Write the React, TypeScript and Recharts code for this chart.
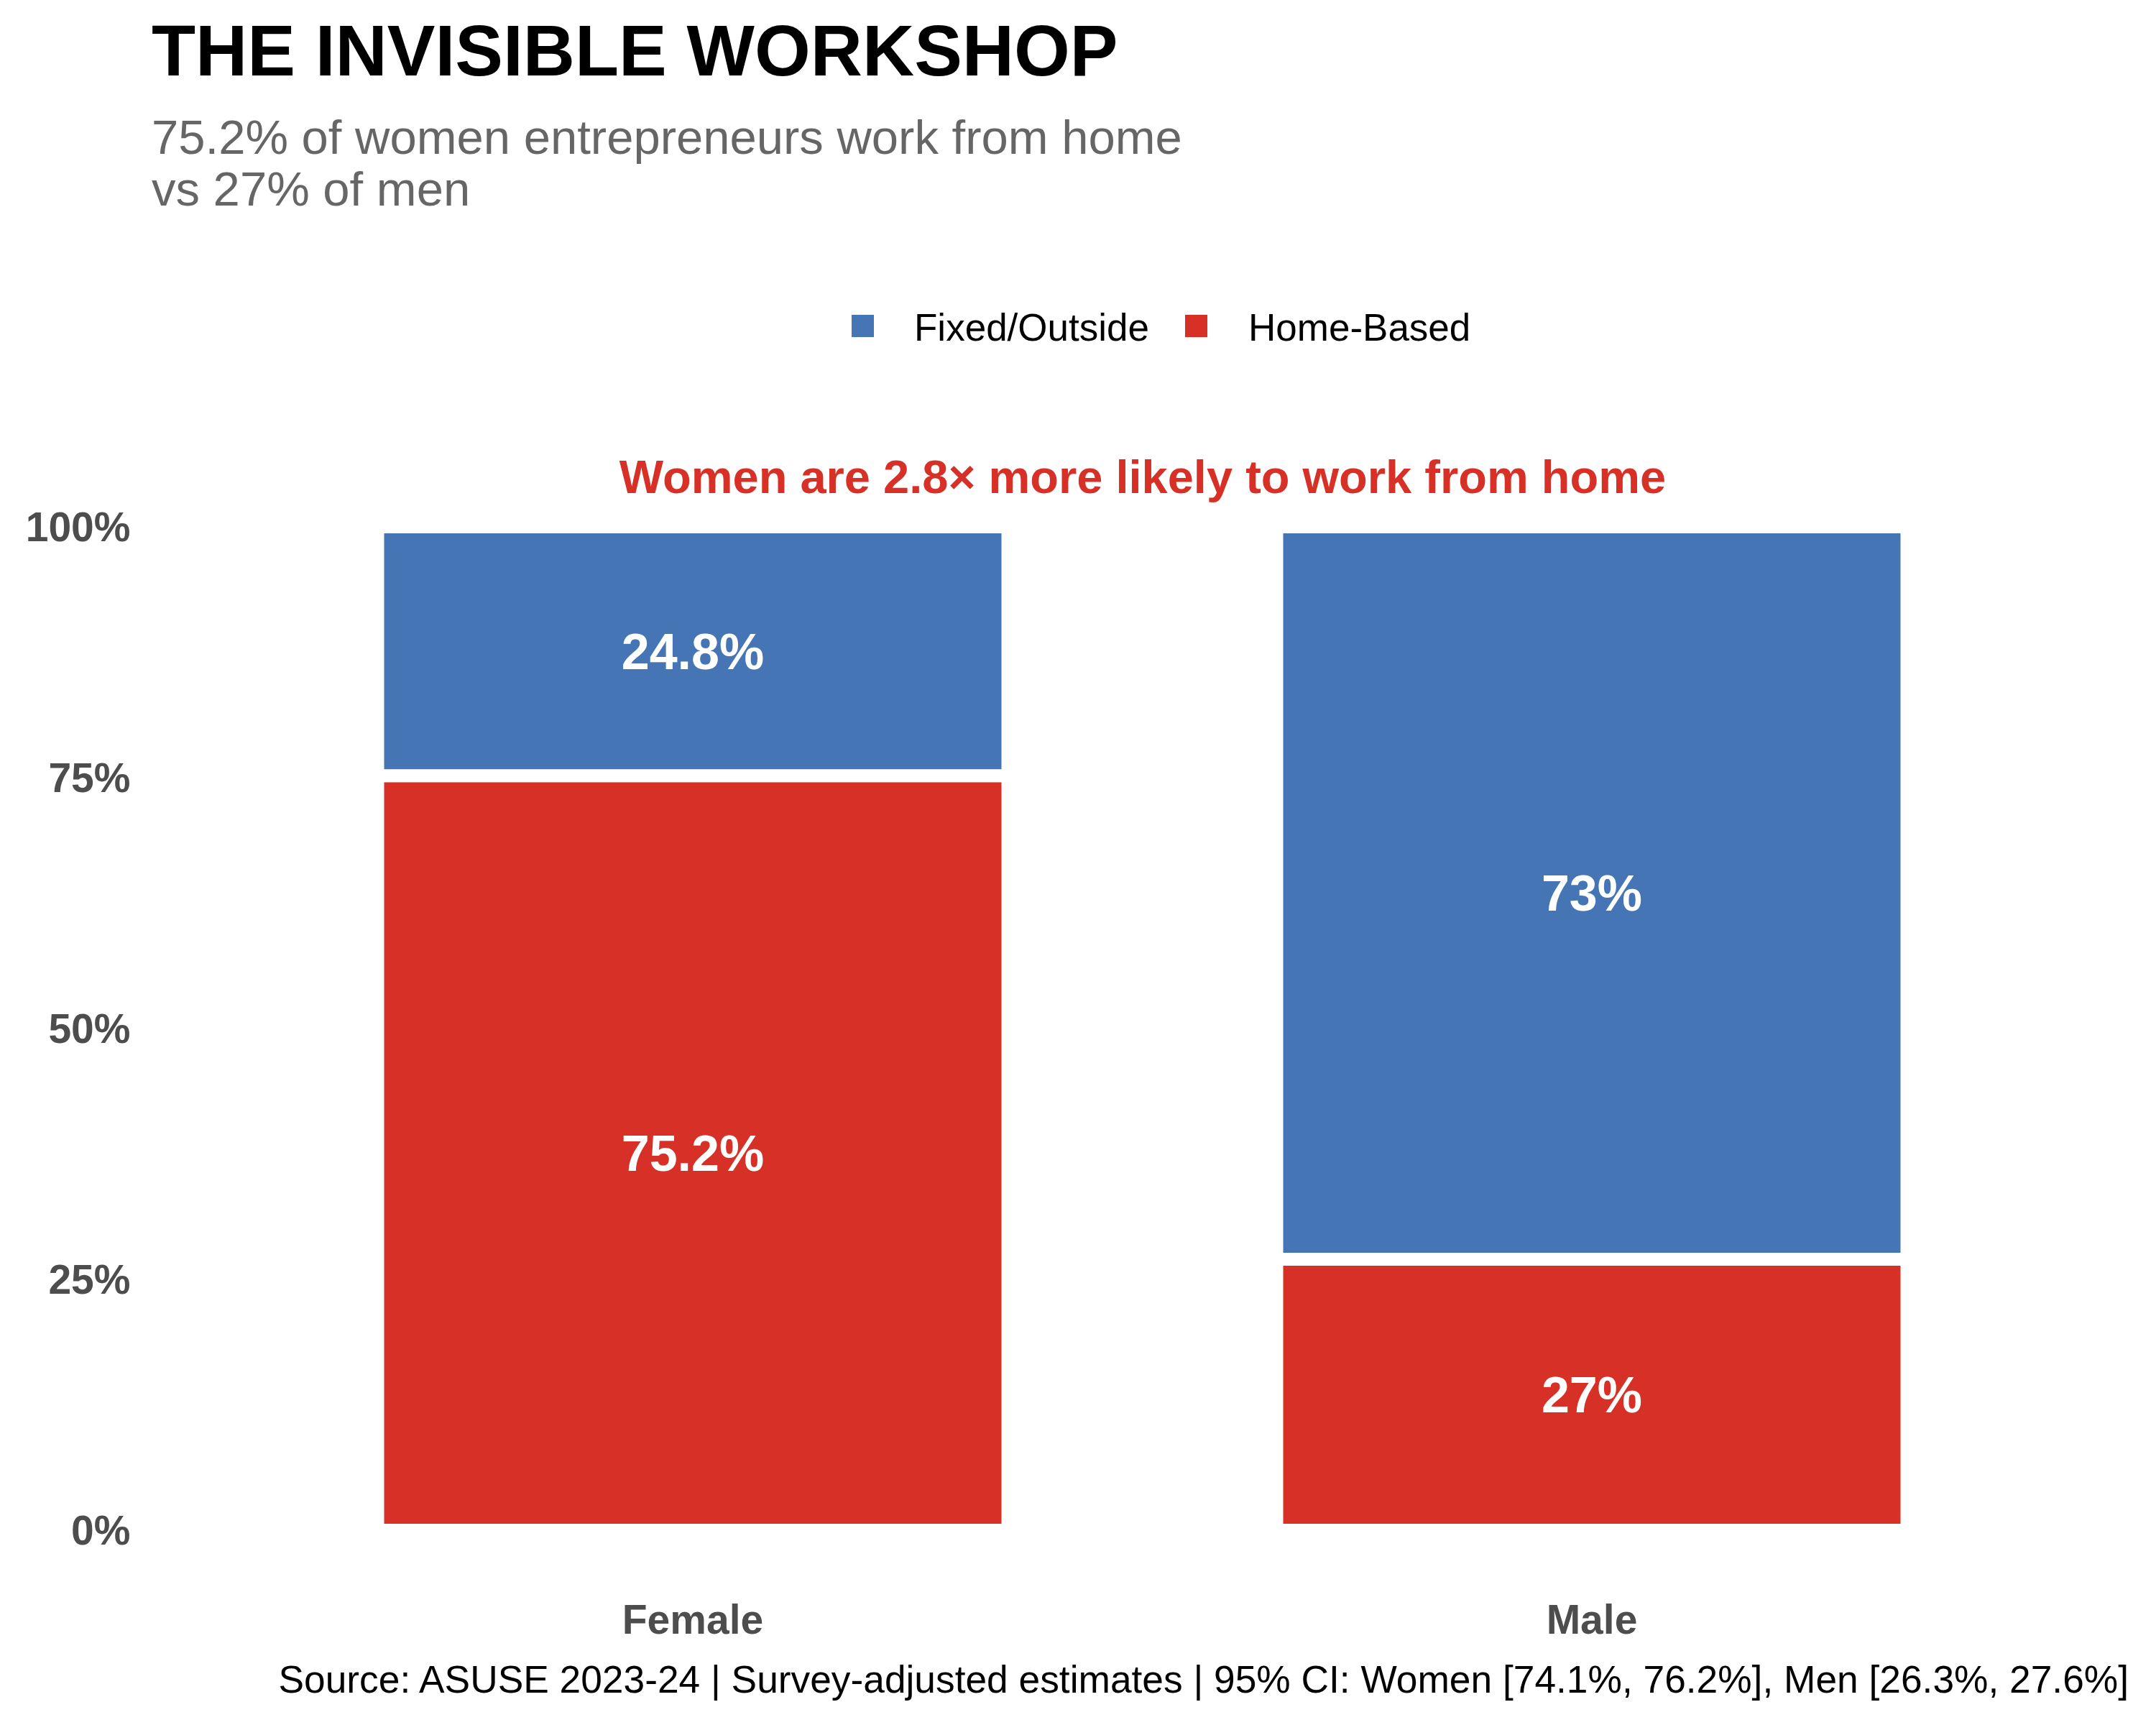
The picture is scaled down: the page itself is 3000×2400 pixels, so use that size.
import { BarChart, Bar, XAxis, YAxis, LabelList } from 'recharts';

// values (share of entrepreneurs, %)
const genders = ['Female', 'Male'];
const homeBased = [75.2, 27];
const fixedOutside = [24.8, 73];
const yTicks = [0, 25, 50, 75, 100];

const seriesNames = { fixed: 'Fixed/Outside', home: 'Home-Based' };
const BLUE = '#4575b4';
const RED = '#d73027';
const AXIS_GREY = '#4d4d4d';
const FONT = '"Liberation Sans", Arial, Helvetica, sans-serif';

const data = genders.map((g, i) => ({
  gender: g,
  home: homeBased[i],
  fixed: fixedOutside[i],
}));

const pct = (v: unknown) => `${v}%`;

function Overlay() {
  return (
    <svg
      width={3000}
      height={2400}
      style={{ position: 'absolute', left: 0, top: 0, pointerEvents: 'none' }}
    >
      <text x={211} y={105} fontSize={100} fontWeight="bold" fill="#000">
        THE INVISIBLE WORKSHOP
      </text>
      <text x={211} y={214} fontSize={67} fill="#666666">
        75.2% of women entrepreneurs work from home
      </text>
      <text x={211} y={286} fontSize={67} fill="#666666">
        vs 27% of men
      </text>

      {/* legend */}
      <rect x={1185} y={438} width={31} height={31} fill={BLUE} />
      <text x={1272} y={474} fontSize={53} fill="#000">
        {seriesNames.fixed}
      </text>
      <rect x={1649} y={438} width={31} height={31} fill={RED} />
      <text x={1737} y={474} fontSize={53} fill="#000">
        {seriesNames.home}
      </text>

      <text x={1590} y={686} fontSize={65} fontWeight="bold" fill={RED} textAnchor="middle">
        Women are 2.8× more likely to work from home
      </text>

      <text x={2962} y={2355} fontSize={53.3} fill="#000" textAnchor="end">
        Source: ASUSE 2023-24 | Survey-adjusted estimates | 95% CI: Women [74.1%, 76.2%], Men [26.3%, 27.6%]
      </text>
    </svg>
  );
}

export default function App() {
  return (
    <div
      style={{
        position: 'absolute',
        left: 0,
        top: 0,
        width: 3000,
        height: 2400,
        background: '#fff',
        fontFamily: FONT,
      }}
    >
      <BarChart
        width={3000}
        height={2400}
        data={data}
        margin={{ top: 733, right: 159.5, bottom: 121, left: 138.5 }}
      >
        <XAxis
          dataKey="gender"
          axisLine={false}
          tickLine={false}
          tickSize={0}
          tickMargin={104}
          height={150}
          tick={{ fontSize: 57, fontWeight: 'bold', fill: AXIS_GREY }}
        />
        <YAxis
          type="number"
          domain={[0, 100]}
          ticks={yTicks}
          tickFormatter={pct}
          axisLine={false}
          tickLine={false}
          tickSize={0}
          tickMargin={157}
          width={200}
          tick={{ fontSize: 57, fontWeight: 'bold', fill: AXIS_GREY }}
        />
        <Bar
          dataKey="home"
          name={seriesNames.home}
          stackId="a"
          fill={RED}
          stroke="#fff"
          strokeWidth={18}
          barSize={877}
          isAnimationActive={false}
        >
          <LabelList
            dataKey="home"
            position="center"
            formatter={pct}
            fill="#fff"
            fontSize={70}
            fontWeight="bold"
          />
        </Bar>
        <Bar
          dataKey="fixed"
          name={seriesNames.fixed}
          stackId="a"
          fill={BLUE}
          stroke="#fff"
          strokeWidth={18}
          barSize={877}
          isAnimationActive={false}
        >
          <LabelList
            dataKey="fixed"
            position="center"
            formatter={pct}
            fill="#fff"
            fontSize={70}
            fontWeight="bold"
          />
        </Bar>
      </BarChart>
      <Overlay />
    </div>
  );
}
